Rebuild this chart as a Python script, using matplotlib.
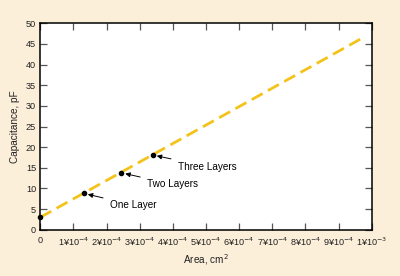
import matplotlib
matplotlib.use("Agg")
import matplotlib.pyplot as plt

plt.rcParams['font.family'] = ['Liberation Sans', 'DejaVu Sans']

# data
fit_x = [0.0, 0.00098]
fit_y = [3.0, 46.8]
pts_x = [0.0, 0.000131, 0.000244, 0.000339]
pts_y = [3.0, 8.8, 13.8, 18.1]
labels = ["One Layer", "Two Layers", "Three Layers"]
label_pos = [(0.000210, 6.0), (0.000322, 11.0), (0.000415, 15.3)]
xticks = [i * 1e-4 for i in range(11)]
xticklabels = ["0"] + [rf"{i}¥10$^{{-4}}$" for i in range(1, 10)] + [r"1¥10$^{-3}$"]
yticks = list(range(0, 51, 5))

bg = "#FCEFDA"
fig = plt.figure(figsize=(4.0, 2.76), dpi=100, facecolor=bg)
ax = fig.add_axes([40.3/400, 1 - 229.7/276, (371.7-40.3)/400, (229.7-23.3)/276])
ax.set_facecolor("white")

ax.plot(fit_x, fit_y, color="#F4C31A", lw=2.0, dashes=(4.5, 2.2), zorder=2)
ax.scatter(pts_x, pts_y, s=9, color="black", zorder=3, clip_on=False)

for (px, py), lab, (tx, ty) in zip(zip(pts_x[1:], pts_y[1:]), labels, label_pos):
    ax.annotate(lab, xy=(px, py), xytext=(tx, ty), fontsize=7.2,
                va="center", ha="left",
                arrowprops=dict(arrowstyle="-|>", color="black", lw=0.7,
                                mutation_scale=7, shrinkA=3, shrinkB=3))

ax.set_xlim(0, 1e-3)
ax.set_ylim(0, 50)
ax.set_xticks(xticks)
ax.set_xticklabels(xticklabels)
ax.set_yticks(yticks)
ax.tick_params(direction="in", length=5, width=0.9, color="#555555",
               labelsize=6.6, top=True, right=True, labeltop=False, labelright=False,
               labelcolor="#222222")
ax.tick_params(axis="x", pad=4.5)
ax.tick_params(axis="y", pad=3)
for s in ax.spines.values():
    s.set_linewidth(1.1)
    s.set_color("black")

ax.set_xlabel("Area, cm$^2$", fontsize=7.2, labelpad=3, color="#222222")
ax.set_ylabel("Capacitance, pF", fontsize=7.2, labelpad=4, color="#222222")

fig.savefig("out.png", dpi=100, facecolor=bg)
